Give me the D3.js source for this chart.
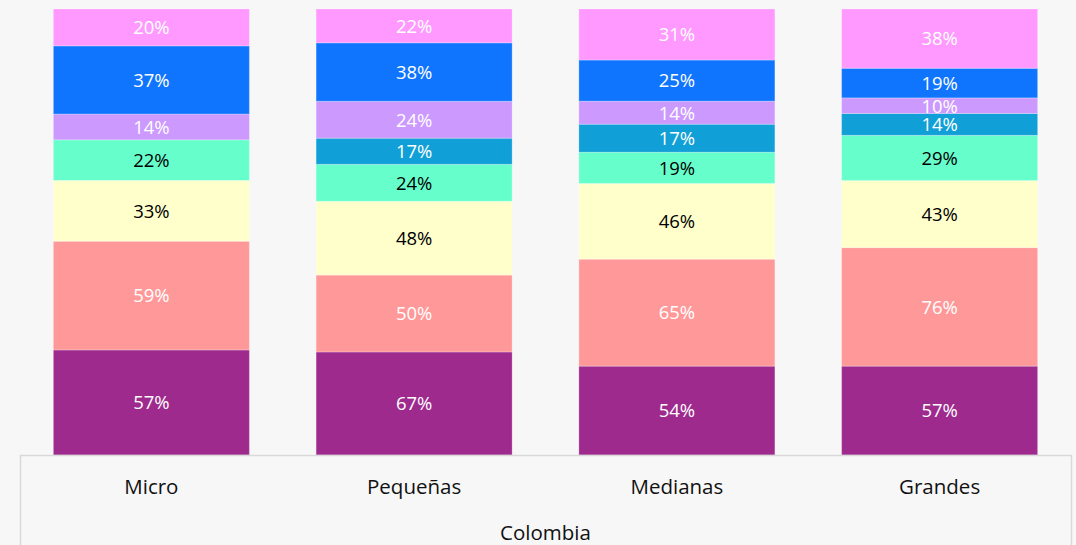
<!DOCTYPE html>
<html>
<head>
<meta charset="utf-8">
<script src="https://cdn.jsdelivr.net/npm/d3@7"></script>
<style>
    body { margin: 0; background: #F7F7F7; }
    svg { display: block; font-family: "Open Sans", "Noto Sans", sans-serif; }
</style>
</head>
<body>
<svg id="chart" width="1076" height="545"></svg>
<script>
// categories along the x axis
const categories = ["Micro", "Pequeñas", "Medianas", "Grandes"];
const groupLabel = "Colombia";

// series, bottom to top of each stack
const seriesNames = ["s1", "s2", "s3", "s4", "s5", "s6", "s7", "s8"];
const seriesColors = ["#9E2A8E", "#FF9999", "#FFFFCC", "#66FFCC", "#109FD6", "#CC99FF", "#0F75FF", "#FF99FF"];
const labelColors = ["#fff", "#fff", "#000", "#000", "#fff", "#fff", "#fff", "#fff"];

// values (%) per series, one per category
const s1 = [57, 67, 54, 57];
const s2 = [59, 50, 65, 76];
const s3 = [33, 48, 46, 43];
const s4 = [22, 24, 19, 29];
const s5 = [0, 17, 17, 14];
const s6 = [14, 24, 14, 10];
const s7 = [37, 38, 25, 19];
const s8 = [20, 22, 31, 38];
const seriesValues = [s1, s2, s3, s4, s5, s6, s7, s8];

// build rows, each bar normalised to its own total
const rows = categories.map((c, i) => {
    const row = { cat: c };
    seriesNames.forEach((s, j) => { row[s] = seriesValues[j][i]; });
    return row;
});

const stack = d3.stack().keys(seriesNames).offset(d3.stackOffsetExpand);
const stacked = stack(rows);

const svg = d3.select("#chart");
const plotLeft = 20, plotRight = 1071, plotTop = 9, plotBottom = 455;

const x = d3.scaleBand()
    .domain(categories)
    .range([plotLeft, plotRight])
    .paddingInner(0.254)
    .paddingOuter(0.127);

const y = d3.scaleLinear()
    .domain([0, 1])
    .range([plotBottom, plotTop]);

// bars
const layers = svg.append("g")
    .selectAll("g")
    .data(stacked)
    .enter()
    .append("g")
    .attr("fill", (d, i) => seriesColors[i]);

layers.selectAll("rect")
    .data(d => d.filter(p => p.data[d.key] > 0))
    .enter()
    .append("rect")
    .attr("x", d => x(d.data.cat))
    .attr("y", d => y(d[1]))
    .attr("width", x.bandwidth())
    .attr("height", d => y(d[0]) - y(d[1]))
    .attr("stroke", "#fff")
    .attr("stroke-opacity", 0.25)
    .attr("stroke-width", 1);

// value labels
stacked.forEach((layer, i) => {
    svg.append("g")
        .selectAll("text")
        .data(layer.filter(p => p.data[layer.key] > 0))
        .enter()
        .append("text")
        .attr("x", d => x(d.data.cat) + x.bandwidth() / 2)
        .attr("y", d => (y(d[0]) + y(d[1])) / 2)
        .attr("dy", "0.37em")
        .attr("text-anchor", "middle")
        .attr("font-size", "18.5px")
        .attr("fill", labelColors[i])
        .text(d => d.data[layer.key] + "%");
});

// axis box
svg.append("rect")
    .attr("x", plotLeft + 0.5)
    .attr("y", plotBottom + 0.5)
    .attr("width", plotRight - plotLeft)
    .attr("height", 120)
    .attr("fill", "none")
    .attr("stroke", "#D9D9D9")
    .attr("stroke-width", 1.5);

svg.append("g")
    .selectAll("text")
    .data(categories)
    .enter()
    .append("text")
    .attr("x", d => x(d) + x.bandwidth() / 2)
    .attr("y", 487)
    .attr("dy", "0.35em")
    .attr("text-anchor", "middle")
    .attr("font-size", "20.5px")
    .attr("fill", "#111")
    .text(d => d);

svg.append("text")
    .attr("x", (plotLeft + plotRight) / 2)
    .attr("y", 533)
    .attr("dy", "0.35em")
    .attr("text-anchor", "middle")
    .attr("font-size", "20.5px")
    .attr("fill", "#111")
    .text(groupLabel);
</script>
</body>
</html>
